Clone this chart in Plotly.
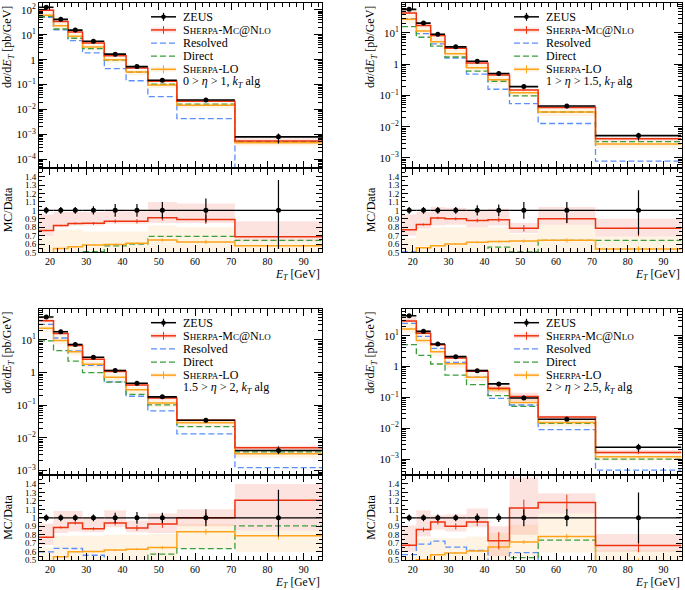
import plotly.graph_objects as go

W, H = 685, 590
FONT = "Liberation Serif"

# ---------------- data ----------------
edges = [17, 21, 25, 29, 35, 41, 47, 55, 71, 95]
x_ticks = [20, 30, 40, 50, 60, 70, 80, 90]
log_tick_vals = [1e-4, 1e-3, 1e-2, 1e-1, 1, 10, 100]
log_tick_text = ["10<sup>−4</sup>", "10<sup>−3</sup>", "10<sup>−2</sup>", "10<sup>−1</sup>",
                 "1", "10<sup>1</sup>", "10<sup>2</sup>"]
ratio_tick_vals = [0.5, 0.6, 0.7, 0.8, 0.9, 1.0, 1.1, 1.2, 1.3, 1.4]
ratio_tick_text = ["0.5", "0.6", "0.7", "0.8", "0.9", "1", "1.1", "1.2", "1.3", "1.4"]
eta_labels = ["0 > <i>η</i> > 1, <i>k</i><sub><i>T</i></sub> alg",
              "1 > <i>η</i> > 1.5, <i>k</i><sub><i>T</i></sub> alg",
              "1.5 > <i>η</i> > 2, <i>k</i><sub><i>T</i></sub> alg",
              "2 > <i>η</i> > 2.5, <i>k</i><sub><i>T</i></sub> alg"]
log_ranges = [[-4.36, 2.28], [-3.33, 1.96], [-3.15, 1.95], [-3.53, 1.87]]

# panel A: 0 > eta > 1
zeus_a = [128, 42, 15.5, 5.5, 1.68, 0.53, 0.15, 0.024, 0.0008]
zeus_a_up = [0.04, 0.04, 0.04, 0.05, 0.075, 0.075, 0.10, 0.14, 0.36]
zeus_a_dn = [0.04, 0.04, 0.04, 0.05, 0.075, 0.075, 0.10, 0.14, 0.46]
nlo_a = [97.3, 34.4, 13.1, 4.65, 1.46, 0.461, 0.137, 0.0214, 0.00055]
nlo_a_stat = [0.01, 0.01, 0.015, 0.02, 0.025, 0.03, 0.04, 0.06, 0.15]
nlo_a_band_lo = [0.69, 0.80, 0.82, 0.82, 0.84, 0.84, 0.85, 0.85, 0.63]
nlo_a_band_hi = [0.95, 0.98, 0.98, 0.98, 0.99, 0.99, 1.10, 1.08, 0.87]
lo_a = [61.4, 23.0, 8.79, 3.23, 1.0, 0.322, 0.097, 0.0150, 0.000463]
lo_a_band_lo = [0.36, 0.41, 0.42, 0.44, 0.45, 0.46, 0.49, 0.47, 0.44]
lo_a_band_hi = [0.68, 0.77, 0.77, 0.75, 0.75, 0.75, 0.82, 0.80, 0.63]
res_a = [50, 16, 5.9, 1.9, 0.44, 0.143, 0.033, 0.0043, 0.00002]
dir_a = [55, 17.2, 7.3, 2.8, 0.97, 0.318, 0.1035, 0.0166, 0.000514]

# panel B: 1 > eta > 1.5
zeus_b = [57, 20.7, 9.1, 3.6, 1.24, 0.507, 0.192, 0.046, 0.0052]
zeus_b_up = [0.04, 0.04, 0.04, 0.04, 0.06, 0.07, 0.10, 0.10, 0.24]
zeus_b_dn = [0.04, 0.04, 0.04, 0.04, 0.06, 0.07, 0.10, 0.15, 0.29]
nlo_b = [43.9, 17.2, 8.28, 3.24, 1.09, 0.451, 0.151, 0.0414, 0.00409]
nlo_b_stat = [0.01, 0.015, 0.015, 0.02, 0.025, 0.03, 0.05, 0.06, 0.12]
nlo_b_band_lo = [0.70, 0.78, 0.82, 0.83, 0.80, 0.82, 0.73, 0.83, 0.69]
nlo_b_band_hi = [0.95, 0.98, 1.04, 1.03, 1.00, 1.02, 0.85, 1.04, 0.90]
lo_b = [27.4, 11.5, 5.28, 2.16, 0.769, 0.319, 0.122, 0.0296, 0.00281]
lo_b_band_lo = [0.36, 0.42, 0.44, 0.45, 0.47, 0.47, 0.48, 0.48, 0.41]
lo_b_band_hi = [0.67, 0.77, 0.80, 0.80, 0.80, 0.80, 0.72, 0.83, 0.69]
res_b = [28.8, 9.5, 4.5, 1.58, 0.48, 0.158, 0.0546, 0.0127, 0.00079]
dir_b = [15.9, 7.3, 3.8, 1.7, 0.6, 0.285, 0.097, 0.0296, 0.00334]

# panel C: 1.5 > eta > 2
zeus_c = [50, 17.8, 7.2, 2.95, 1.15, 0.47, 0.18, 0.0347, 0.0041]
zeus_c_up = [0.04, 0.04, 0.04, 0.04, 0.06, 0.07, 0.06, 0.10, 0.33]
zeus_c_dn = [0.04, 0.04, 0.04, 0.04, 0.06, 0.07, 0.06, 0.10, 0.22]
nlo_c = [38.5, 15.8, 6.77, 2.57, 1.08, 0.414, 0.167, 0.0347, 0.00495]
nlo_c_stat = [0.01, 0.015, 0.02, 0.02, 0.03, 0.04, 0.05, 0.06, 0.10]
nlo_c_band_lo = [0.68, 0.82, 0.84, 0.83, 0.89, 0.83, 0.82, 0.90, 0.85]
nlo_c_band_hi = [0.93, 1.08, 1.08, 1.00, 1.09, 0.97, 1.05, 1.10, 1.40]
lo_c = [22.5, 9.61, 4.32, 1.78, 0.713, 0.296, 0.117, 0.029, 0.00324]
lo_c_band_lo = [0.34, 0.41, 0.46, 0.46, 0.47, 0.48, 0.49, 0.64, 0.60]
lo_c_band_hi = [0.65, 0.79, 0.79, 0.79, 0.80, 0.80, 0.81, 0.93, 0.85]
res_c = [30, 11.4, 4.6, 1.65, 0.52, 0.188, 0.0666, 0.0132, 0.00123]
dir_c = [9.3, 4.7, 2.24, 1.0, 0.51, 0.215, 0.103, 0.0221, 0.00371]

# panel D: 2 > eta > 2.5
zeus_d = [44.4, 13.8, 5.37, 2.09, 0.736, 0.273, 0.096, 0.0195, 0.00243]
zeus_d_up = [0.04, 0.04, 0.04, 0.04, 0.05, 0.05, 0.10, 0.10, 0.30]
zeus_d_dn = [0.04, 0.04, 0.04, 0.04, 0.05, 0.05, 0.10, 0.10, 0.30]
nlo_d = [30.0, 11.9, 5.10, 1.88, 0.699, 0.199, 0.107, 0.0230, 0.00164]
nlo_d_stat = [0.02, 0.03, 0.03, 0.04, 0.05, 0.14, 0.09, 0.08, 0.12]
nlo_d_band_lo = [0.60, 0.78, 0.86, 0.84, 0.89, 0.55, 0.80, 1.05, 0.60]
nlo_d_band_hi = [0.91, 1.09, 1.03, 1.04, 1.11, 0.90, 1.48, 1.29, 0.81]
lo_d = [16.4, 6.97, 3.04, 1.225, 0.449, 0.179, 0.0686, 0.0152, 0.00119]
lo_d_band_lo = [0.28, 0.38, 0.43, 0.44, 0.46, 0.49, 0.54, 0.59, 0.37]
lo_d_band_hi = [0.55, 0.76, 0.76, 0.76, 0.78, 0.82, 0.92, 1.05, 0.62]
res_d = [25.1, 9.52, 3.90, 1.367, 0.453, 0.093, 0.0566, 0.00897, 0.000437]
dir_d = [5.1, 2.3, 1.21, 0.53, 0.26, 0.114, 0.051, 0.0144, 0.0010]

lo_stat = [0.01, 0.01, 0.01, 0.015, 0.02, 0.02, 0.03, 0.04, 0.06]

panels = [
    dict(data=zeus_a, up=zeus_a_up, dn=zeus_a_dn, nlo=nlo_a, nlo_stat=nlo_a_stat,
         nlo_lo=nlo_a_band_lo, nlo_hi=nlo_a_band_hi, lo=lo_a, lo_lo=lo_a_band_lo,
         lo_hi=lo_a_band_hi, res=res_a, dir=dir_a),
    dict(data=zeus_b, up=zeus_b_up, dn=zeus_b_dn, nlo=nlo_b, nlo_stat=nlo_b_stat,
         nlo_lo=nlo_b_band_lo, nlo_hi=nlo_b_band_hi, lo=lo_b, lo_lo=lo_b_band_lo,
         lo_hi=lo_b_band_hi, res=res_b, dir=dir_b),
    dict(data=zeus_c, up=zeus_c_up, dn=zeus_c_dn, nlo=nlo_c, nlo_stat=nlo_c_stat,
         nlo_lo=nlo_c_band_lo, nlo_hi=nlo_c_band_hi, lo=lo_c, lo_lo=lo_c_band_lo,
         lo_hi=lo_c_band_hi, res=res_c, dir=dir_c),
    dict(data=zeus_d, up=zeus_d_up, dn=zeus_d_dn, nlo=nlo_d, nlo_stat=nlo_d_stat,
         nlo_lo=nlo_d_band_lo, nlo_hi=nlo_d_band_hi, lo=lo_d, lo_lo=lo_d_band_lo,
         lo_hi=lo_d_band_hi, res=res_d, dir=dir_d),
]

# ---------------- style ----------------
C_RED = "#ee3311"
C_ORA = "#ffa31a"
C_BLUE = "#5b8ff9"
C_GREEN = "#3a9e3a"
C_PINK = "rgba(240,70,40,0.15)"
C_PEACH = "rgba(255,165,40,0.13)"
DASH = "6px,3px"

COLS = [(39, 322), (402, 681.5)]
ROWS = [(2, 169, 254), (311, 479.3, 565)]

centers = [(edges[i] + edges[i + 1]) / 2 for i in range(len(edges) - 1)]
halfw = [(edges[i + 1] - edges[i]) / 2 for i in range(len(edges) - 1)]


def step(vals):
    return edges, list(vals) + [vals[-1]]


def band(lo, hi):
    xs, ys = [], []
    for i in range(len(lo)):
        xs += [edges[i], edges[i + 1]]
        ys += [hi[i], hi[i]]
    for i in reversed(range(len(lo))):
        xs += [edges[i + 1], edges[i]]
        ys += [lo[i], lo[i]]
    return xs, ys


def aname(i, letter):
    return f"{letter}axis" if i == 1 else f"{letter}axis{i}"


def aref(i, letter):
    return letter if i == 1 else f"{letter}{i}"


fig = go.Figure()
layout = {}
shapes = []
annotations = []

axis_common = dict(showline=True, linecolor="black", linewidth=1, mirror="allticks",
                   ticks="inside", tickcolor="black", showgrid=False, zeroline=False,
                   tickfont=dict(family=FONT, size=10, color="black"))

minor_log = [k * 10.0 ** e for e in range(-5, 3) for k in range(2, 10)]

for k, p in enumerate(panels):
    r, c = divmod(k, 2)
    x0, x1 = COLS[c]
    ytop, ymid, ybot = ROWS[r]
    xd = [x0 / W, x1 / W]
    im, ir = 2 * k + 1, 2 * k + 2
    layout[aname(im, "x")] = dict(axis_common, domain=xd, anchor=aref(im, "y"), range=[17, 95],
                                  tickvals=x_ticks, showticklabels=False, ticklen=7,
                                  minor=dict(ticks="inside", dtick=2, tick0=0, ticklen=4,
                                             tickcolor="black"))
    layout[aname(im, "y")] = dict(axis_common, domain=[1 - ymid / H, 1 - ytop / H],
                                  anchor=aref(im, "x"), type="log", range=log_ranges[k],
                                  tickmode="array", tickvals=log_tick_vals, ticktext=log_tick_text,
                                  ticklen=8, tickfont=dict(family=FONT, size=11, color="black"),
                                  minor=dict(ticks="inside", tickmode="array", tickvals=minor_log,
                                             ticklen=4, tickcolor="black"))
    layout[aname(ir, "x")] = dict(axis_common, domain=xd, anchor=aref(ir, "y"), range=[17, 95],
                                  tickvals=x_ticks, ticklen=7,
                                  minor=dict(ticks="inside", dtick=2, tick0=0, ticklen=4,
                                             tickcolor="black"))
    layout[aname(ir, "y")] = dict(axis_common, domain=[1 - ybot / H, 1 - ymid / H],
                                  anchor=aref(ir, "x"), range=[0.5, 1.5],
                                  tickmode="array", tickvals=ratio_tick_vals, ticktext=ratio_tick_text,
                                  ticklen=6, tickfont=dict(family=FONT, size=9, color="black"),
                                  minor=dict(ticks="inside", dtick=0.05, tick0=0, ticklen=3,
                                             tickcolor="black"))

    data = p["data"]
    xm, ym = aref(im, "x"), aref(im, "y")
    xr, yr = aref(ir, "x"), aref(ir, "y")
    nlo_r = [a / b for a, b in zip(p["nlo"], data)]
    lo_r = [a / b for a, b in zip(p["lo"], data)]
    res_r = [a / b for a, b in zip(p["res"], data)]
    dir_r = [a / b for a, b in zip(p["dir"], data)]

    for (xa, ya, scale) in [(xm, ym, data), (xr, yr, [1.0] * len(data))]:
        bx, by = band([l * s for l, s in zip(p["nlo_lo"], scale)],
                      [h * s for h, s in zip(p["nlo_hi"], scale)])
        fig.add_trace(go.Scatter(x=bx, y=by, xaxis=xa, yaxis=ya, fill="toself",
                                 fillcolor=C_PINK, line=dict(width=0), mode="lines",
                                 hoverinfo="skip"))
        bx, by = band([l * s for l, s in zip(p["lo_lo"], scale)],
                      [h * s for h, s in zip(p["lo_hi"], scale)])
        fig.add_trace(go.Scatter(x=bx, y=by, xaxis=xa, yaxis=ya, fill="toself",
                                 fillcolor=C_PEACH, line=dict(width=0), mode="lines",
                                 hoverinfo="skip"))

    for vals, col, dash, wid in [(p["res"], C_BLUE, DASH, 1.3), (p["dir"], C_GREEN, DASH, 1.3),
                                 (p["lo"], C_ORA, None, 1.5), (p["nlo"], C_RED, None, 1.5)]:
        sx, sy = step(vals)
        fig.add_trace(go.Scatter(x=sx, y=sy, xaxis=xm, yaxis=ym, mode="lines",
                                 line=dict(color=col, width=wid, dash=dash, shape="hv")))
    for vals, col, dash, wid in [(res_r, C_BLUE, DASH, 1.3), (dir_r, C_GREEN, DASH, 1.3),
                                 (lo_r, C_ORA, None, 1.5), (nlo_r, C_RED, None, 1.5)]:
        sx, sy = step(vals)
        fig.add_trace(go.Scatter(x=sx, y=sy, xaxis=xr, yaxis=yr, mode="lines",
                                 line=dict(color=col, width=wid, dash=dash, shape="hv")))

    for vals, rel, col in [(p["lo"], lo_stat, C_ORA), (p["nlo"], p["nlo_stat"], C_RED)]:
        fig.add_trace(go.Scatter(x=centers, y=vals, xaxis=xm, yaxis=ym, mode="markers",
                                 marker=dict(size=1, color=col),
                                 error_y=dict(type="data", array=[v * e for v, e in zip(vals, rel)],
                                              color=col, thickness=1, width=0)))
        rv = [v / d for v, d in zip(vals, data)]
        fig.add_trace(go.Scatter(x=centers, y=rv, xaxis=xr, yaxis=yr, mode="markers",
                                 marker=dict(size=1, color=col),
                                 error_y=dict(type="data", array=[v * e for v, e in zip(rv, rel)],
                                              color=col, thickness=1, width=0)))

    fig.add_trace(go.Scatter(x=centers, y=data, xaxis=xm, yaxis=ym, mode="markers",
                             marker=dict(size=5, color="black"),
                             error_x=dict(type="data", array=halfw, color="black",
                                          thickness=1.6, width=0),
                             error_y=dict(type="data", array=[d * u for d, u in zip(data, p["up"])],
                                          arrayminus=[d * u for d, u in zip(data, p["dn"])],
                                          color="black", thickness=1.2, width=0)))
    ones = [d / d for d in data]
    fig.add_trace(go.Scatter(x=centers, y=ones, xaxis=xr, yaxis=yr, mode="markers",
                             marker=dict(size=5, color="black"),
                             error_x=dict(type="data", array=halfw, color="black",
                                          thickness=1.4, width=0),
                             error_y=dict(type="data", array=p["up"], arrayminus=p["dn"],
                                          color="black", thickness=1.2, width=0)))

    # ---------- axis titles ----------
    lab_x = (x0 - 31) / W
    annotations.append(dict(text="d<i>σ</i>/d<i>E</i><sub><i>T</i></sub> [pb/GeV]",
                            xref="paper", yref="paper", x=lab_x, y=1 - (ytop + 1) / H,
                            xanchor="center", yanchor="top", textangle=-90, showarrow=False,
                            font=dict(family=FONT, size=12, color="black")))
    annotations.append(dict(text="MC/Data", xref="paper", yref="paper", x=lab_x,
                            y=1 - ((ymid + ybot) / 2) / H, xanchor="center", yanchor="middle",
                            textangle=-90, showarrow=False,
                            font=dict(family=FONT, size=12, color="black")))
    annotations.append(dict(text="<i>E</i><sub><i>T</i></sub> [GeV]", xref="paper", yref="paper",
                            x=x1 / W, y=1 - (ybot + 14) / H, xanchor="right", yanchor="top",
                            showarrow=False, font=dict(family=FONT, size=11.5, color="black")))

    # ---------- legend ----------
    sx0, sx1, tx = x0 + 112, x0 + 137, x0 + 142
    rows = [ytop + 14 + 13.25 * i for i in range(6)]
    px = lambda v: v / W
    py = lambda v: 1 - v / H
    sc = "<span style='font-size:9px'>"
    names = ["ZEUS",
             f"S{sc}HERPA</span>-M{sc}C</span>@N{sc}LO</span>",
             "Resolved", "Direct",
             f"S{sc}HERPA</span>-LO",
             eta_labels[k]]
    for i, nm in enumerate(names):
        annotations.append(dict(text=nm, xref="paper", yref="paper", x=px(tx), y=py(rows[i]),
                                xanchor="left", yanchor="middle", showarrow=False,
                                font=dict(family=FONT, size=12, color="black")))
    ym0 = rows[0]
    cx = (sx0 + sx1) / 2
    shapes.append(dict(type="line", xref="paper", yref="paper", x0=px(sx0), x1=px(sx1),
                       y0=py(ym0), y1=py(ym0), line=dict(color="black", width=1.5)))
    shapes.append(dict(type="line", xref="paper", yref="paper", x0=px(cx), x1=px(cx),
                       y0=py(ym0 - 4), y1=py(ym0 + 4), line=dict(color="black", width=1.2)))
    shapes.append(dict(type="circle", xref="paper", yref="paper", fillcolor="black",
                       x0=px(cx - 2.3), x1=px(cx + 2.3),
                       y0=py(ym0 - 2.3), y1=py(ym0 + 2.3), line=dict(width=0)))
    for row, col, fill in [(rows[1], C_RED, C_PINK), (rows[4], C_ORA, C_PEACH)]:
        shapes.append(dict(type="rect", xref="paper", yref="paper", x0=px(sx0), x1=px(sx1),
                           y0=py(row - 2.5), y1=py(row + 2.5), fillcolor=fill, line=dict(width=0)))
        shapes.append(dict(type="line", xref="paper", yref="paper", x0=px(sx0), x1=px(sx1),
                           y0=py(row), y1=py(row), line=dict(color=col, width=1.5)))
        shapes.append(dict(type="line", xref="paper", yref="paper", x0=px(cx), x1=px(cx),
                           y0=py(row - 4), y1=py(row + 4), line=dict(color=col, width=1)))
    for row, col in [(rows[2], C_BLUE), (rows[3], C_GREEN)]:
        shapes.append(dict(type="line", xref="paper", yref="paper", x0=px(sx0), x1=px(sx1),
                           y0=py(row), y1=py(row), line=dict(color=col, width=1.3, dash=DASH)))

fig.update_layout(**layout)
fig.update_layout(width=W, height=H, margin=dict(l=0, r=0, t=0, b=0, pad=0),
                  paper_bgcolor="white", plot_bgcolor="white", showlegend=False,
                  font=dict(family=FONT, size=11, color="black"),
                  shapes=shapes, annotations=annotations)
fig.write_html("out.html", config={"displayModeBar": False},
               post_script="document.body.style.margin='0px';")
